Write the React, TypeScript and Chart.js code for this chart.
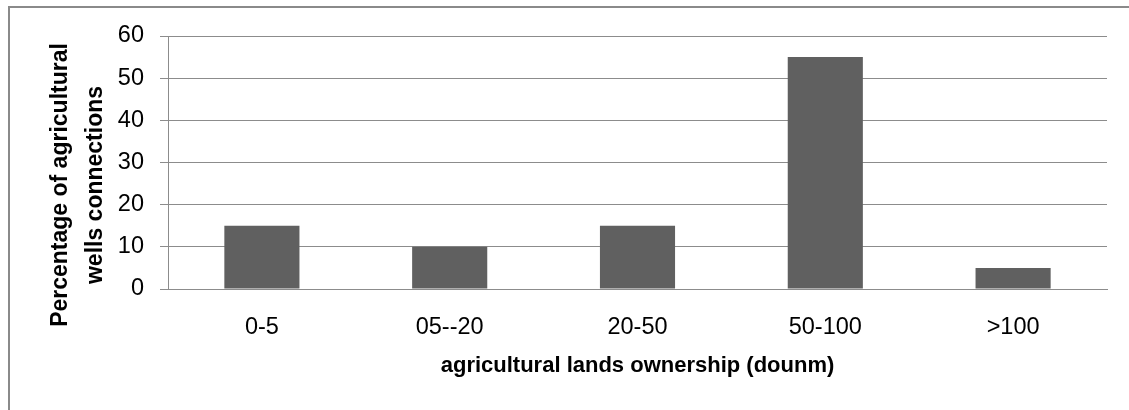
import React, { useEffect, useRef } from "react";
import { Chart, registerables } from "chart.js";

Chart.register(...registerables);

const categories = ["0-5", "05--20", "20-50", "50-100", ">100"];
const values = [15, 10, 15, 55, 5];
const yTitleLines = ["Percentage of agricultural", "wells connections"];
const xTitle = "agricultural lands ownership (dounm)";
const yMin = 0;
const yMax = 60;
const yStep = 10;

const FONT = '"Liberation Sans", Arial, sans-serif';

export default function App() {
  const ref = useRef<HTMLCanvasElement | null>(null);

  useEffect(() => {
    if (!ref.current) return;
    const yTitlePlugin = {
      id: "yTitlePlugin",
      afterDraw(chart: any) {
        const ctx = chart.ctx;
        ctx.save();
        ctx.font = `bold 23px ${FONT}`;
        ctx.fillStyle = "#000";
        ctx.textAlign = "center";
        ctx.textBaseline = "alphabetic";
        const xs = [67, 102];
        yTitleLines.forEach((line, i) => {
          ctx.save();
          ctx.translate(xs[i], 185);
          ctx.rotate(-Math.PI / 2);
          ctx.fillText(line, 0, 0);
          ctx.restore();
        });
        ctx.restore();
      },
    };
    const chart = new Chart(ref.current, {
      type: "bar",
      data: {
        labels: categories,
        datasets: [
          {
            data: values,
            backgroundColor: "#606060",
            borderWidth: 0,
            categoryPercentage: 1,
            barPercentage: 0.4,
          },
        ],
      },
      options: {
        responsive: false,
        animation: false,
        layout: { padding: { left: 0, right: 22, top: 36, bottom: 0 } },
        plugins: {
          legend: { display: false },
          tooltip: { enabled: false },
        },
        scales: {
          x: {
            afterFit: (s: any) => {
              s.height = 121;
            },
            grid: { display: false, drawTicks: false },
            border: { display: true, color: "#8c8c8c", width: 1 },
            ticks: {
              color: "#000",
              font: { family: FONT, size: 23.5 },
              padding: 24,
              maxRotation: 0,
            },
            title: {
              display: true,
              text: xTitle,
              color: "#000",
              font: { family: FONT, size: 22, weight: "bold" },
              padding: { top: 0, bottom: 31 },
            },
          },
          y: {
            min: yMin,
            max: yMax,
            afterFit: (s: any) => {
              s.width = 168;
            },
            grid: { color: "#8c8c8c", lineWidth: 1, tickLength: 8, drawTicks: true },
            border: { display: true, color: "#8c8c8c", width: 1 },
            ticks: {
              stepSize: yStep,
              color: "#000",
              font: { family: FONT, size: 23.5 },
              padding: 16,
            },
          },
        },
      },
      plugins: [yTitlePlugin],
    });
    return () => chart.destroy();
  }, []);

  return (
    <>
      <div
        style={{
          position: "absolute",
          left: 8,
          top: 6,
          width: 1119,
          height: 402,
          borderTop: "2px solid #8a8a8a",
          borderLeft: "2px solid #8a8a8a",
        }}
      />
      <canvas
        ref={ref}
        width={1129}
        height={410}
        style={{ position: "absolute", left: 0, top: 0, width: 1129, height: 410 }}
      />
    </>
  );
}
